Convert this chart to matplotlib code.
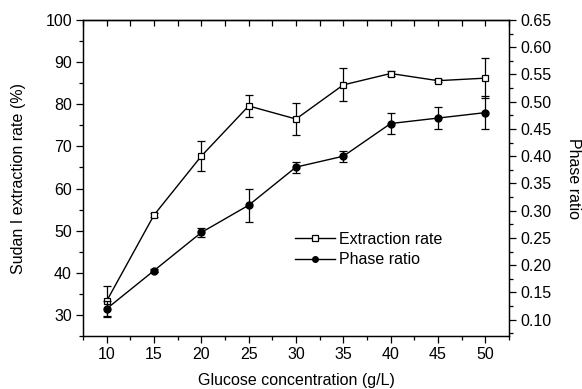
import matplotlib
matplotlib.use("Agg")
import matplotlib.pyplot as plt
from matplotlib.ticker import MultipleLocator

plt.rcParams['font.family'] = ['Liberation Sans', 'DejaVu Sans']
plt.rcParams['font.size'] = 11.5

glucose = [10, 15, 20, 25, 30, 35, 40, 45, 50]
extraction = [33.3, 53.7, 67.7, 79.6, 76.5, 84.6, 87.3, 85.6, 86.2]
extraction_err = [3.6, 0.4, 3.6, 2.7, 3.7, 3.9, 0.5, 0.3, 4.7]
phase = [0.120, 0.190, 0.260, 0.310, 0.380, 0.400, 0.460, 0.470, 0.480]
phase_err = [0.015, 0.003, 0.008, 0.030, 0.010, 0.010, 0.020, 0.020, 0.030]

fig = plt.figure(figsize=(5.82, 3.89), dpi=100)
ax = fig.add_axes([83/582, 1 - 336/389, (509-83)/582, (336-20)/389])
ax2 = ax.twinx()

l1 = ax.errorbar(glucose, extraction, yerr=extraction_err, color='black', lw=1,
                 marker='s', ms=5, mfc='white', mec='black', mew=0.9,
                 capsize=3, elinewidth=0.9, capthick=0.9, zorder=3)
l2 = ax2.errorbar(glucose, phase, yerr=phase_err, color='black', lw=1,
                  marker='o', ms=5, mfc='black', mec='black',
                  capsize=3, elinewidth=0.9, capthick=0.9, zorder=3)

ax.set_xlim(7.5, 52.5)
ax.set_ylim(25, 100)
ax2.set_ylim(0.07, 0.65)

ax.xaxis.set_major_locator(MultipleLocator(5))
ax.xaxis.set_minor_locator(MultipleLocator(2.5))
ax.yaxis.set_major_locator(MultipleLocator(10))
ax.yaxis.set_minor_locator(MultipleLocator(5))
ax2.yaxis.set_major_locator(MultipleLocator(0.05))
ax2.yaxis.set_minor_locator(MultipleLocator(0.025))
ax2.yaxis.set_major_formatter(matplotlib.ticker.FormatStrFormatter('%.2f'))

ax.tick_params(axis='both', which='major', direction='out', length=5, width=0.9, labelsize=11.5, pad=3)
ax.tick_params(axis='both', which='minor', direction='out', length=3, width=0.9)
ax2.tick_params(axis='y', which='major', direction='out', length=5, width=0.9, labelsize=11.5, pad=3)
ax2.tick_params(axis='y', which='minor', direction='out', length=3, width=0.9)

top = ax.secondary_xaxis('top')
top.xaxis.set_major_locator(MultipleLocator(5))
top.xaxis.set_minor_locator(MultipleLocator(2.5))
top.tick_params(axis='x', which='both', direction='in', length=4, width=0.9, labeltop=False)

for a in (ax, ax2):
    for s in a.spines.values():
        s.set_linewidth(0.9)
top.spines['top'].set_linewidth(0.9)

ax.set_xlabel('Glucose concentration (g/L)', fontsize=11.5)
ax.xaxis.set_label_coords(0.5, -0.118)
ax.set_ylabel('Sudan I extraction rate (%)', fontsize=11.5)
ax.yaxis.set_label_coords(-0.134, 0.5)
ax2.set_ylabel('Phase ratio', fontsize=11.5, rotation=270, va='bottom')
ax2.yaxis.set_label_coords(1.134, 0.5)

leg = ax.legend([l1.lines[0], l2.lines[0]], ['Extraction rate', 'Phase ratio'],
                loc='upper left', bbox_to_anchor=(0.465, 0.375), frameon=False,
                fontsize=11.5, handlelength=2.5, handletextpad=0.2, labelspacing=0.35,
                numpoints=1, markerscale=0.8)

fig.savefig('out.png', dpi=100)
